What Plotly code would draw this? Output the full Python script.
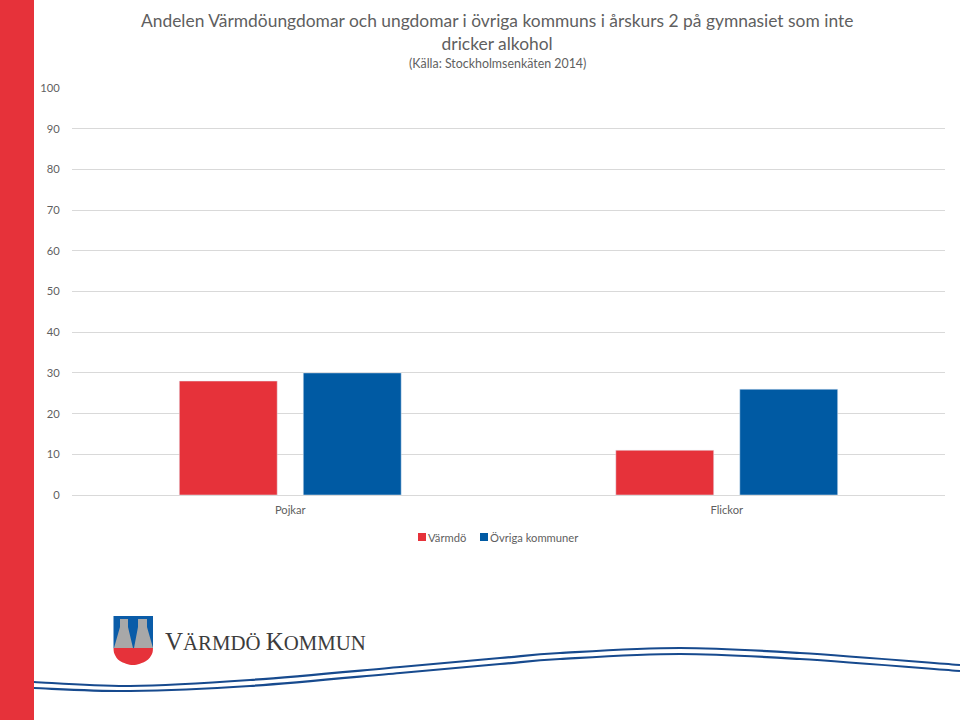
import plotly.graph_objects as go

# Data
categories = ["Pojkar", "Flickor"]
varmdo = [28, 11]
ovriga = [30, 26]
series_names = ["Värmdö", "Övriga kommuner"]
y_ticks = [0, 10, 20, 30, 40, 50, 60, 70, 80, 90, 100]

RED = "#E6323A"
BLUE = "#005AA3"
WAVE = "#174A8E"
TEXT = "#5F5F5F"
GRID = "#D9D9D9"

# plot area in page pixels
LEFT, RIGHT, TOP, BOTTOM = 72, 945, 88, 495


def px(x):
    return (x - LEFT) / (RIGHT - LEFT)


def py(y):
    return (BOTTOM - y) / (BOTTOM - TOP)


def poly(points):
    """Closed straight path from page pixel points"""
    return "M " + " L ".join(f"{px(x):.5f},{py(y):.5f}" for x, y in points) + " Z"


def smooth(points):
    """Open catmull-rom curve through page pixel points, for the decoration waves"""
    p = [(px(x), py(y)) for x, y in points]
    d = f"M {p[0][0]:.5f},{p[0][1]:.5f}"
    for i in range(len(p) - 1):
        p0 = p[max(i - 1, 0)]
        p1, p2 = p[i], p[i + 1]
        p3 = p[min(i + 2, len(p) - 1)]
        c1 = (p1[0] + (p2[0] - p0[0]) / 6, p1[1] + (p2[1] - p0[1]) / 6)
        c2 = (p2[0] - (p3[0] - p1[0]) / 6, p2[1] - (p3[1] - p1[1]) / 6)
        d += f" C {c1[0]:.5f},{c1[1]:.5f} {c2[0]:.5f},{c2[1]:.5f} {p2[0]:.5f},{p2[1]:.5f}"
    return d


def page_text(text, x, y, size, anchor="center", family="Lato", color=TEXT):
    return dict(text=text, x=px(x), y=py(y), xref="paper", yref="paper", showarrow=False,
                xanchor=anchor, yanchor="middle", font=dict(family=family, size=size, color=color))


def page_rect(x0, x1, y0, y1, color):
    return dict(type="rect", xref="paper", yref="paper", x0=px(x0), x1=px(x1), y0=py(y0), y1=py(y1),
                fillcolor=color, line_width=0)


fig = go.Figure()
fig.add_trace(go.Bar(x=categories, y=varmdo, name=series_names[0], marker_color=RED))
fig.add_trace(go.Bar(x=categories, y=ovriga, name=series_names[1], marker_color=BLUE))

shapes = []
# red band on the left
shapes.append(page_rect(0, 34, 0, 720, RED))
# the two double waves at the bottom
upper = [(34, 682), (130, 686), (250, 680), (400, 667), (500, 658), (560, 653), (680, 648), (800, 653), (960, 665)]
lower = [(34, 688), (130, 691), (250, 686), (400, 673), (500, 664), (560, 659), (680, 654), (800, 659), (960, 671)]
for wave in (upper, lower):
    shapes.append(dict(type="path", xref="paper", yref="paper", path=smooth(wave),
                       line=dict(color=WAVE, width=2.2)))
# coat of arms
shapes.append(page_rect(113.5, 153, 616, 648, "#0A5CA8"))
shapes.append(dict(type="path", xref="paper", yref="paper",
                   path=smooth([(113.5, 648), (114.5, 654), (120, 661), (133, 665), (146, 661), (152, 654), (153, 648)]) + " Z",
                   fillcolor=RED, line_width=0))
shapes.append(dict(type="path", xref="paper", yref="paper",
                   path=poly([(120, 619), (128, 619), (128, 627), (133, 648), (114, 648), (120, 627)]),
                   fillcolor="#A8A8A8", line_width=0))
shapes.append(dict(type="path", xref="paper", yref="paper",
                   path=poly([(138, 619), (147, 619), (147, 627), (153, 648), (134, 648), (138, 627)]),
                   fillcolor="#A8A8A8", line_width=0))
# legend swatches
shapes.append(page_rect(418, 426, 533, 541, RED))
shapes.append(page_rect(480, 488, 533, 541, BLUE))

annotations = [
    page_text("Andelen Värmdöungdomar och ungdomar i övriga kommuns i årskurs 2 på gymnasiet som inte<br>dricker alkohol",
              497, 32, 17.4),
    page_text("(Källa: Stockholmsenkäten 2014)", 497, 63, 12.4),
    page_text("<span style='font-size:25px'>V</span>ÄRMDÖ <span style='font-size:25px'>K</span>OMMUN",
              163, 641, 20.8, anchor="left", family="Liberation Serif", color="#3C3C3C"),
    page_text(series_names[0], 426, 537, 11.2, anchor="left"),
    page_text(series_names[1], 488, 537, 11.2, anchor="left"),
]

fig.update_layout(
    width=960,
    height=720,
    margin=dict(l=LEFT, r=960 - RIGHT, t=TOP, b=720 - BOTTOM, pad=0),
    paper_bgcolor="white",
    plot_bgcolor="white",
    font=dict(family="Lato", size=11.2, color=TEXT),
    barmode="group",
    bargap=0.432,
    bargroupgap=0.21,
    showlegend=False,
    shapes=shapes,
    annotations=annotations,
)
fig.update_xaxes(showgrid=False, showline=True, linecolor=GRID, ticks="outside", ticklen=5, tickcolor="white",
                 tickfont=dict(size=11.2, color=TEXT))
fig.update_yaxes(range=[0, 100], tickvals=y_ticks, gridcolor=GRID, gridwidth=1, zeroline=False,
                 showline=False, ticks="outside", ticklen=9, tickcolor="white",
                 tickfont=dict(size=11.2, color=TEXT))

# the default body margin would push the page 8px off the window corner
fig.write_html("out.html", config=dict(displayModeBar=False), post_script="document.body.style.margin='0';")
